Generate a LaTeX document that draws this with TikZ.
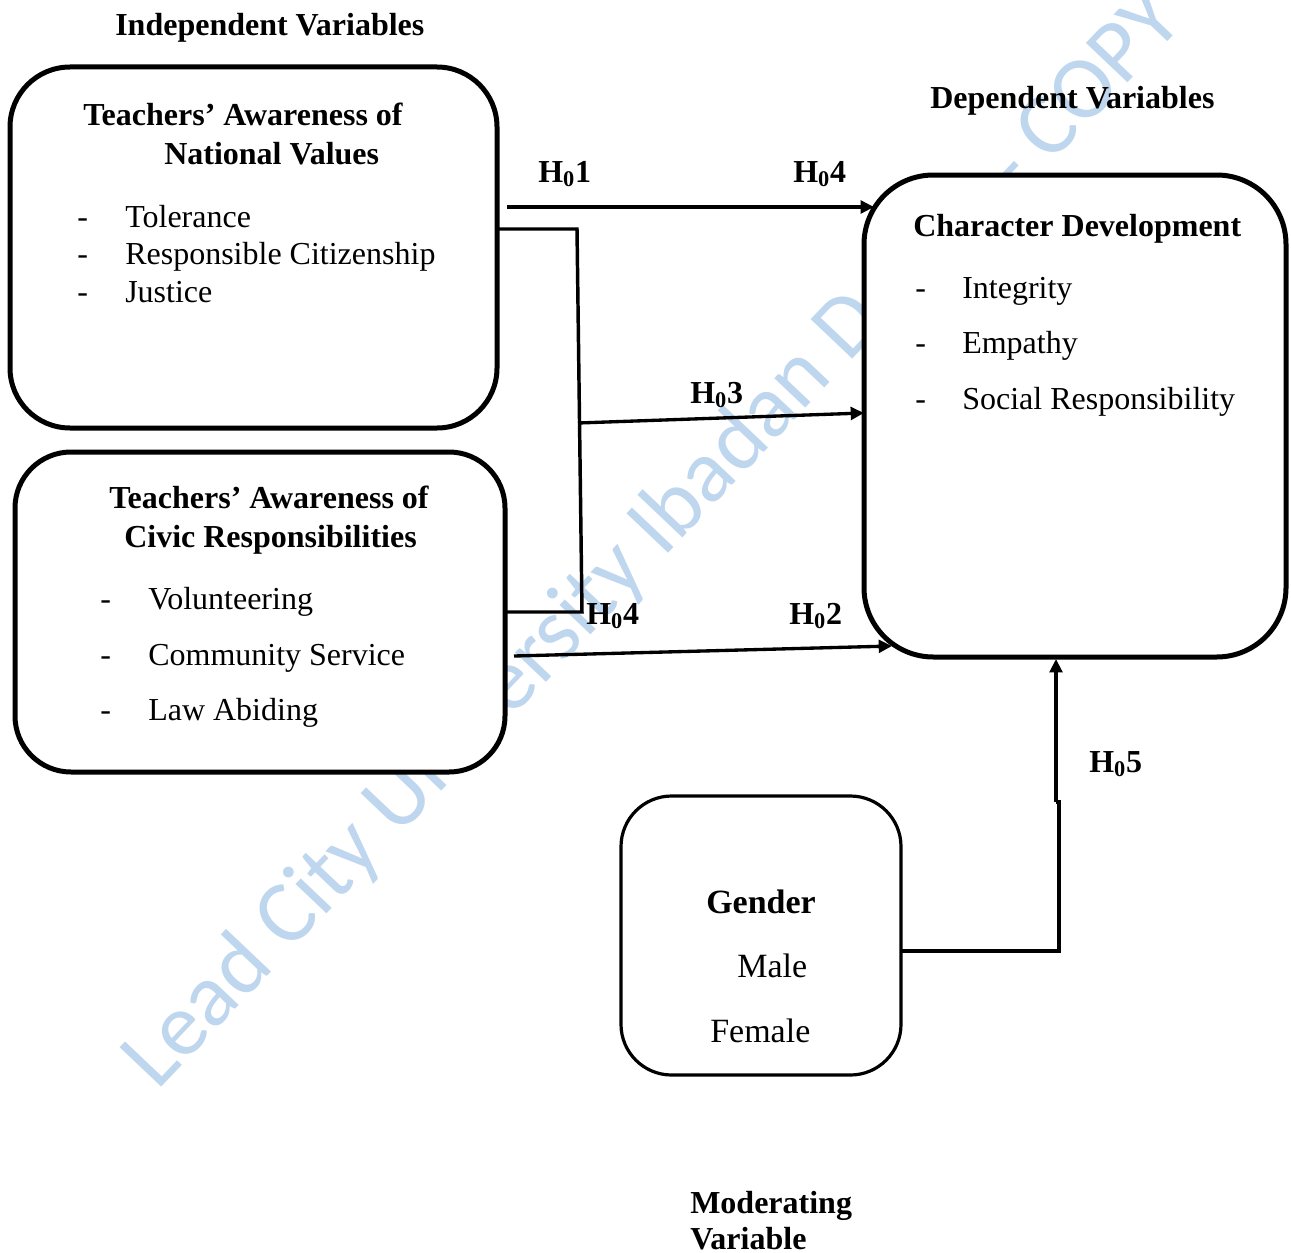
\documentclass[tikz,border=0pt]{standalone}
\usepackage{fontspec}
\setmainfont{Liberation Serif}
\newfontfamily\wmfont{Carlito}
\usetikzlibrary{arrows.meta}
\definecolor{wmblue}{RGB}{190,214,238}
\begin{document}
\begin{tikzpicture}[x=0.75pt,y=-0.75pt,
  box/.style={draw, fill=white, line width=3.75pt, inner sep=0pt, outer sep=0pt},
  txt/.style={anchor=base west, inner sep=0pt, font=\fontsize{24}{28}\selectfont},
  bt/.style={anchor=base west, inner sep=0pt, font=\fontsize{24}{28}\selectfont\bfseries},
  gtxt/.style={anchor=base west, inner sep=0pt, font=\fontsize{25.5}{30}\selectfont},
  wm/.style={anchor=base west, inner sep=0pt, text=wmblue, rotate=46.5, font=\wmfont\fontsize{67}{67}\selectfont},
  arr/.style={line width=2.5pt, -{Triangle[length=10pt,width=9.5pt]}},
  link/.style={line width=2.6pt}]
\useasboundingbox (0,0) rectangle (1291,1252);
\fill[white] (0,0) rectangle (1291,1252);

% watermark
\node[wm] (wm1) at (157,1092) {Lead City University Ibadan Do};
\node[wm] (wm2) at (1018,199) {- COPY};

% boxes
\node[box, rounded corners=45pt, minimum width=365.25pt, minimum height=270.75pt] (nv) at (253.5,247.5) {};
\node[box, rounded corners=42pt, minimum width=367.5pt, minimum height=240pt] (cr) at (260,612) {};
\node[box, rounded corners=52pt, minimum width=316.5pt, minimum height=361.5pt] (cd) at (1075,416) {};
\node[box, line width=2.4pt, rounded corners=38pt, minimum width=210pt, minimum height=209.25pt] (g) at (761,935.5) {};

% headings
\node[bt] (indep) at (115,36) {Independent Variables};
\node[bt] (dep) at (930,109) {Dependent Variables};
\node[bt] (modA) at (690,1213) {Moderating};
\node[bt] (modB) at (690,1249) {Variable};

% national values box
\node[bt] (nvA) at (83,126) {Teachers’ Awareness of};
\node[bt] (nvB) at (164,165) {National Values};
\node[txt] (nvd1) at (77,227) {-};
\node[txt] (nvt1) at (125,227) {Tolerance};
\node[txt] (nvd2) at (77,264) {-};
\node[txt] (nvt2) at (125,264) {Responsible Citizenship};
\node[txt] (nvd3) at (77,302) {-};
\node[txt] (nvt3) at (125,302) {Justice};

% civic responsibilities box
\node[bt] (crA) at (109,508) {Teachers’ Awareness of};
\node[bt] (crB) at (124,547) {Civic Responsibilities};
\node[txt] (crd1) at (100,609) {-};
\node[txt] (crt1) at (148,609) {Volunteering};
\node[txt] (crd2) at (100,665) {-};
\node[txt] (crt2) at (148,665) {Community Service};
\node[txt] (crd3) at (100,720) {-};
\node[txt] (crt3) at (148,720) {Law Abiding};

% character development box
\node[bt] (cdA) at (913,236) {Character Development};
\node[txt] (cdd1) at (915,298) {-};
\node[txt] (cdt1) at (962,298) {Integrity};
\node[txt] (cdd2) at (915,353) {-};
\node[txt] (cdt2) at (962,353) {Empathy};
\node[txt] (cdd3) at (915,409) {-};
\node[txt] (cdt3) at (962,409) {Social Responsibility};

% gender box
\node[gtxt, font=\fontsize{25.5}{30}\selectfont\bfseries] (gA) at (706,913) {Gender};
\node[gtxt] (gB) at (737,977) {Male};
\node[gtxt] (gC) at (710,1042) {Female};

% hypothesis labels
\node[bt] (h1) at (538,182) {H\textsubscript{0}1};
\node[bt] (h4a) at (793,182) {H\textsubscript{0}4};
\node[bt] (h3) at (690,403) {H\textsubscript{0}3};
\node[bt] (h4b) at (586,624) {H\textsubscript{0}4};
\node[bt] (h2) at (789,624) {H\textsubscript{0}2};
\node[bt] (h5) at (1089,772) {H\textsubscript{0}5};

% connector points
\coordinate (a1s) at (507,207);
\coordinate (a1e) at (874,207);
\coordinate (bt1) at (577,229);
\coordinate (bt2) at (582,612);
\coordinate (a3s) at (578,423);
\coordinate (a3e) at (864,413);
\coordinate (a2s) at (514,656);
\coordinate (a2e) at (892,646);
\coordinate (g1) at (1059,951);
\coordinate (g2) at (1059,802);
\coordinate (g3) at (1056,802);
\coordinate (g4) at (1056,659);

\draw[arr] (a1s) -- (a1e);
\draw[link] (nv.east |- bt1) -- (bt1) -- (bt2) -- (cr.east |- bt2);
\draw[arr] (a3s) -- (a3e);
\draw[arr] (a2s) -- (a2e);
\draw[link, line width=2.4pt] (g.east |- g1) -- (g1) -- (g2) -- (g3);
\draw[arr, line width=2.4pt] (g3) -- (g4);
\end{tikzpicture}
\end{document}
